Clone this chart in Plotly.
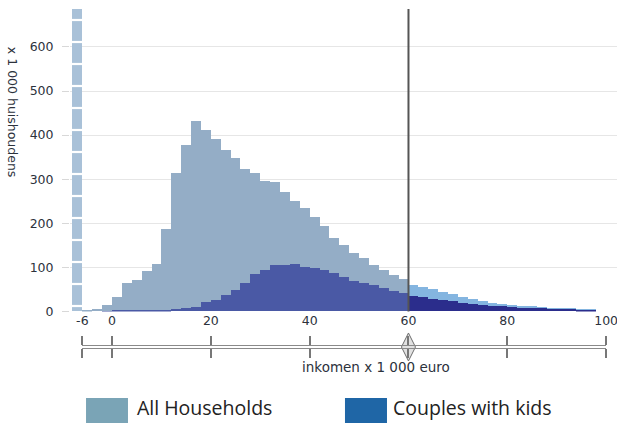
import plotly.graph_objects as go

# ---------------- data ----------------
bin_centers = [-7, -5, -3, -1, 1, 3, 5, 7, 9, 11, 13, 15, 17, 19, 21, 23, 25, 27, 29,
               31, 33, 35, 37, 39, 41, 43, 45, 47, 49, 51, 53, 55, 57, 59, 61, 63, 65,
               67, 69, 71, 73, 75, 77, 79, 81, 83, 85, 87, 89, 91, 93, 95, 97]
all_households = [700, 2, 5, 14, 34, 65, 72, 92, 108, 187, 315, 378, 431, 411, 392, 366,
                  349, 324, 315, 296, 294, 272, 250, 234, 215, 193, 167, 151, 132, 121,
                  106, 94, 83, 73, 60, 56, 50, 45, 40, 34, 28, 23, 20, 17, 15, 13, 12,
                  10, 9, 8, 7, 6, 5]
couples_with_kids = [0, 0, 0, 1, 2, 2, 2, 3, 3, 4, 5, 7, 11, 21, 27, 37, 49, 64, 85, 93,
                     106, 106, 108, 102, 98, 93, 87, 79, 70, 64, 60, 53, 47, 41, 35, 34,
                     29, 26, 23, 20, 17, 15, 13, 12, 10, 9, 8, 7, 6, 5, 5, 4, 3]
x_tick_values = [-6, 0, 20, 40, 60, 80, 100]
x_tick_labels = ["-6", "0", "20", "40", "60", "80", "100"]
y_tick_values = [0, 100, 200, 300, 400, 500, 600]
threshold = 60
series_names = ["All Households", "Couples with kids"]
y_title = "x 1 000 huishoudens"
x_title = "inkomen x 1 000 euro"

# ---------------- styles ----------------
AXIS_FONT = dict(family="DejaVu Sans", size=12.5, color="#2c323c")
lowest = x_tick_values[0]

# split "All Households" into the off-scale negative bin and the regular bins
neg_x = [c for c in bin_centers if c < lowest]
neg_y = [v for c, v in zip(bin_centers, all_households) if c < lowest]
reg_x = [c for c in bin_centers if c >= lowest]
reg_y = [v for c, v in zip(bin_centers, all_households) if c >= lowest]
reg_colors = ["#94adc6" if c < threshold else "#84b5e0" for c in reg_x]
ck_colors = ["#4a59a5" if c < threshold else "#2b2d8c" for c in bin_centers]

fig = go.Figure()
fig.add_trace(go.Bar(
    x=neg_x, y=neg_y, width=2, name=series_names[0], showlegend=False,
    marker=dict(color="#a9c1d8", line=dict(width=0),
                pattern=dict(shape="-", fgcolor="#ffffff", bgcolor="#a9c1d8",
                             fgopacity=1, size=22, solidity=0.1, fillmode="replace")),
    hoverinfo="x+y",
))
fig.add_trace(go.Bar(
    x=reg_x, y=reg_y, width=2, name=series_names[0], showlegend=False,
    marker=dict(color=reg_colors, line=dict(width=0)),
    hoverinfo="x+y",
))
fig.add_trace(go.Bar(
    x=bin_centers, y=couples_with_kids, width=2, name=series_names[1], showlegend=False,
    marker=dict(color=ck_colors, line=dict(width=0)),
    hoverinfo="x+y",
))
# slider handle
fig.add_trace(go.Scatter(
    x=[threshold], y=[0.5], xaxis="x2", yaxis="y2", mode="markers", showlegend=False,
    marker=dict(symbol="diamond-tall", size=20, color="#e2e2e2",
                line=dict(color="#6e6e6e", width=1)),
    cliponaxis=False, hoverinfo="skip",
))

fig.add_vline(x=threshold, line_color="#555555", line_width=2)

fig.update_layout(
    width=617, height=423, autosize=False,
    margin=dict(l=70, r=0, t=9, b=75),
    plot_bgcolor="white", paper_bgcolor="white",
    barmode="overlay", bargap=0,
    xaxis=dict(domain=[0, 1], range=[-8.5, 102.2], anchor="y",
               tickvals=x_tick_values, ticktext=x_tick_labels, ticks="",
               ticklabeloverflow="allow",
               showgrid=False, zeroline=False, showline=False, tickfont=AXIS_FONT),
    yaxis=dict(domain=[0.1077, 1], range=[0, 686], anchor="x",
               tickvals=y_tick_values, gridcolor="#e6e6e6", gridwidth=1,
               ticks="outside", ticklen=7, tickcolor="#d8d8d8",
               zeroline=False, showline=False, tickfont=AXIS_FONT,
               ticklabelstandoff=6),
    xaxis2=dict(domain=[0.0227, 0.980], range=[-6, 100], anchor="y2",
                tickvals=x_tick_values, showticklabels=False,
                ticks="outside", ticklen=9, tickwidth=1.5, tickcolor="#777777",
                showline=True, linecolor="#8a8a8a", linewidth=1.3, mirror="ticks",
                showgrid=False, zeroline=False),
    yaxis2=dict(domain=[0, 0.006], range=[0, 1], anchor="x2", visible=False),
    showlegend=False,
)

# axis titles
fig.add_annotation(text=y_title, textangle=90, xref="paper", yref="paper",
                   x=-0.105, y=0.695, showarrow=False, font=AXIS_FONT,
                   xanchor="center", yanchor="middle")
fig.add_annotation(text=x_title, xref="paper", yref="paper",
                   x=0.559, y=-0.056, showarrow=False,
                   font=dict(family="DejaVu Sans", size=13.5, color="#2c323c"),
                   xanchor="center", yanchor="middle")

# custom legend
legend_colors = ["#7aa4b6", "#1f66a6"]
legend_x = [(0.0293, 0.106, 0.1188), (0.5027, 0.5795, 0.5868)]
for name, col, (x0, x1, xt) in zip(series_names, legend_colors, legend_x):
    fig.add_shape(type="rect", xref="paper", yref="paper", x0=x0, x1=x1,
                  y0=-0.1475, y1=-0.225, fillcolor=col, line=dict(width=0))
    fig.add_annotation(text=name, xref="paper", yref="paper", x=xt, y=-0.176,
                       xanchor="left", yanchor="middle", showarrow=False,
                       font=dict(family="Open Sans", size=19.5, color="#222222"))

fig.write_html("out.html", config={"displayModeBar": False},
               post_script="document.body.style.margin='0';document.body.style.overflow='hidden';")
